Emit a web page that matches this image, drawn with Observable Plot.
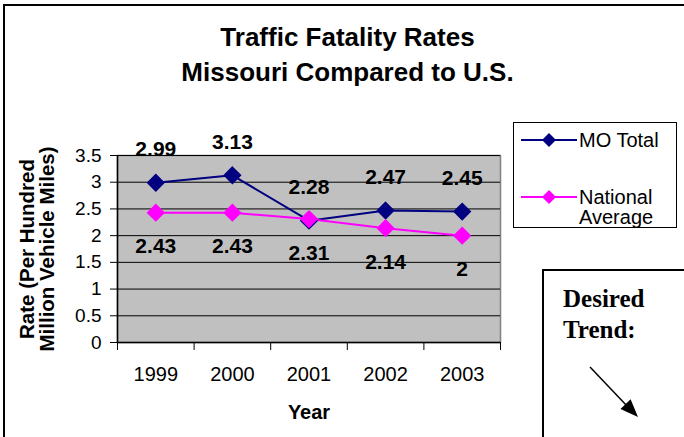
<!DOCTYPE html>
<html>
<head>
<meta charset="utf-8">
<script src="https://cdn.jsdelivr.net/npm/d3@7"></script>
<script src="https://cdn.jsdelivr.net/npm/@observablehq/plot@0.6"></script>
<style>
  html, body { margin: 0; padding: 0; background: #fff; }
  #wrap { position: relative; width: 684px; height: 437px; overflow: hidden; font-family: "Liberation Sans", Arial, sans-serif; }
  #outer { position: absolute; left: 3px; top: 4px; width: 700px; height: 460px; border-left: 2px solid #000; border-top: 2px solid #000; }
  #title { position: relative; height: 100px; box-sizing: border-box; padding-top: 20px; padding-left: 11px; text-align: center; font-weight: bold; font-size: 26px; line-height: 35px; color: #000; }
  #chart svg { display: block; }
  #legend { position: absolute; left: 513px; top: 122px; width: 164px; height: 106px; box-sizing: border-box; border: 1px solid #000; background: #fff; font-size: 20px; }
  .item { position: absolute; left: 7px; display: flex; align-items: flex-start; }
  .item span { line-height: 20px; }
  #trend { position: absolute; left: 542px; top: 269px; width: 200px; height: 200px; box-sizing: border-box; border: 2px solid #000; background: #fff; font-family: "Liberation Serif", "Times New Roman", serif; font-weight: bold; font-size: 25px; line-height: 31px; padding-left: 19px; padding-top: 12px; }
</style>
</head>
<body>
<div id="wrap">
  <div id="outer"></div>
  <div id="title">Traffic Fatality Rates<br>Missouri Compared to U.S.</div>
  <div id="chart"></div>
  <div id="legend"></div>
  <div id="trend">Desired<br>Trend:
    <svg width="90" height="90" style="position:absolute; left:40px; top:90px;">
      <line x1="6" y1="6" x2="44" y2="46" stroke="#000" stroke-width="1.5"/>
      <path d="M54,56 L36.5,47.9 L46.6,38.2 Z" fill="#000"/>
    </svg>
  </div>
</div>
<script>
const years = [1999, 2000, 2001, 2002, 2003];
const moTotal = [2.99, 3.13, 2.28, 2.47, 2.45];
const national = [2.43, 2.43, 2.31, 2.14, 2.00];
const seriesNames = ["MO Total", "National Average"];
const seriesColors = ["#000080", "#ff00ff"];
const yTicks = [0, 0.5, 1, 1.5, 2, 2.5, 3, 3.5];
const yTickLabels = ["0", "0.5", "1", "1.5", "2", "2.5", "3", "3.5"];
const xTickLabels = ["1999", "2000", "2001", "2002", "2003"];

const data = [];
years.forEach((yr, i) => {
  data.push({year: yr, value: moTotal[i], series: seriesNames[0]});
  data.push({year: yr, value: national[i], series: seriesNames[1]});
});
const moData = data.filter(d => d.series === seriesNames[0]);
const natData = data.filter(d => d.series === seriesNames[1]);
const bounds = years.map(y => y - 0.5).concat([years[years.length - 1] + 0.5]);

const font = "'Liberation Sans', Arial, sans-serif";
const chart = Plot.plot({
  width: 684,
  height: 337,
  marginTop: 55,
  marginBottom: 95,
  marginLeft: 117,
  marginRight: 184,
  style: {fontFamily: font, fontSize: "19px", color: "#000", background: "transparent"},
  x: {type: "linear", domain: [bounds[0], bounds[bounds.length - 1]]},
  y: {domain: [0, 3.5]},
  color: {domain: seriesNames, range: seriesColors},
  marks: [
    Plot.frame({fill: "#c0c0c0", stroke: "#808080", strokeWidth: 1.5}),
    Plot.gridY(yTicks.slice(1), {stroke: "#000", strokeOpacity: 1, strokeWidth: 1}),
    Plot.ruleY([0], {stroke: "#000", strokeWidth: 1.5}),
    Plot.ruleX([bounds[0]], {stroke: "#000", strokeWidth: 1.5}),
    Plot.axisY(yTicks, {tickSize: 7, tickPadding: 9, tickFormat: (d) => yTickLabels[yTicks.indexOf(d)], fontSize: 19, label: null, stroke: "#000"}),
    Plot.axisX(bounds, {tickSize: 8, tickFormat: () => "", label: null, stroke: "#000"}),
    Plot.axisX(years, {tickSize: 0, tickPadding: 24, tickFormat: d => xTickLabels[years.indexOf(d)], fontSize: 20, label: null}),
    Plot.text(["Year"], {frameAnchor: "bottom", dy: 70, lineAnchor: "middle", fontWeight: "bold", fontSize: 20}),
    Plot.text(["Rate (Per Hundred\nMillion Vehicle Miles)"], {frameAnchor: "left", rotate: -90, dx: -80, lineAnchor: "middle", textAnchor: "middle", fontWeight: "bold", fontSize: 20.5, lineHeight: 1.0}),
    Plot.line(data, {x: "year", y: "value", z: "series", stroke: "series", strokeWidth: 2}),
    Plot.dot(data, {x: "year", y: "value", fill: "series", stroke: "series", symbol: "diamond2", r: 7.3}),
    Plot.text(moData, {x: "year", y: "value", text: d => String(d.value), dy: -33, lineAnchor: "middle", fontWeight: "bold", fontSize: 21}),
    Plot.text(natData, {x: "year", y: "value", text: d => String(d.value), dy: 34, lineAnchor: "middle", fontWeight: "bold", fontSize: 21})
  ]
});
document.getElementById("chart").appendChild(chart);

// legend
const legend = document.getElementById("legend");
const legendLines = [["MO Total"], ["National", "Average"]];
const legendTops = [7, 64];
seriesNames.forEach((name, i) => {
  const item = document.createElement("div");
  item.className = "item";
  item.style.top = legendTops[i] + "px";
  const sw = `<svg width="58" height="20" style="flex:none"><line x1="0" y1="10" x2="56" y2="10" stroke="${seriesColors[i]}" stroke-width="2"/><path d="M28,3 L35,10 L28,17 L21,10 Z" fill="${seriesColors[i]}"/></svg>`;
  item.innerHTML = sw + `<span>${legendLines[i].join("<br>")}</span>`;
  legend.appendChild(item);
});
</script>
</body>
</html>
